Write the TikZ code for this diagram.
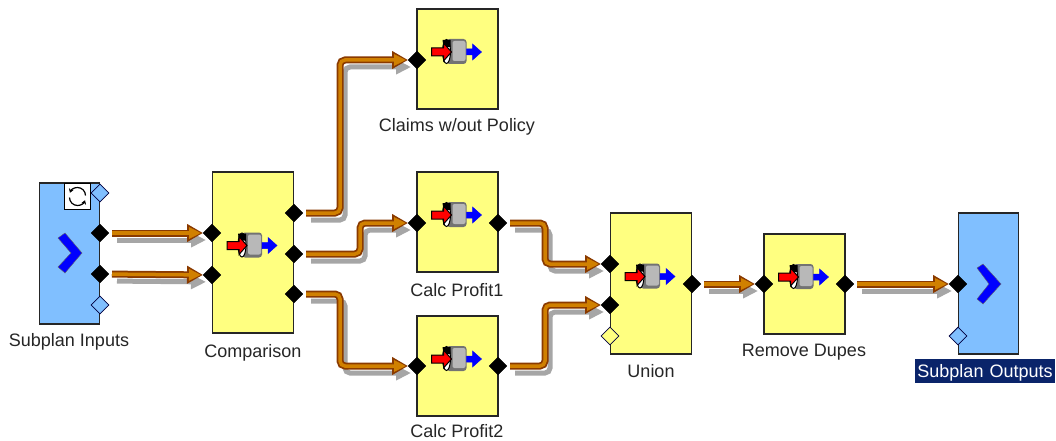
\documentclass[tikz,border=0pt]{standalone}
\usepackage{fontspec}
\setmainfont{Liberation Sans}
\usetikzlibrary{shapes.geometric,arrows.meta}
\definecolor{boxyellow}{HTML}{FFFF80}
\definecolor{boxblue}{HTML}{80BFFF}
\definecolor{pipebrown}{HTML}{8A3A00}
\definecolor{pipeorange}{HTML}{D08000}
\definecolor{labelnavy}{HTML}{0A246A}
\tikzset{
  x=1pt,y=-1pt,
  stagebox/.style={draw=black!85,line width=1.4pt,minimum width=#1,inner sep=0pt},
  ybox/.style={stagebox=81pt,fill=boxyellow},
  bbox/.style={stagebox=60pt,fill=boxblue},
  port/.style={diamond,aspect=1,fill=black,draw=black,inner sep=0pt,minimum size=18pt,line width=.4pt},
  openport/.style={port,draw=black!75!blue,line width=.8pt,fill=#1},
  lab/.style={font=\fontsize{18}{20}\selectfont,text=black!85,inner sep=0pt},
  pipeshadow/.style={draw=black!35,line width=5pt,rounded corners=5pt,shorten <=12pt,shorten >=11pt,
    -{Triangle[length=15pt,width=14pt,fill=black!35,color=black!35]}},
  pipeouter/.style={draw=pipebrown,line width=7pt,rounded corners=5pt,shorten <=12pt,shorten >=9pt,
    -{Triangle[length=16pt,width=17pt,fill=pipebrown,color=pipebrown]}},
  pipeinner/.style={draw=pipeorange,line width=3.5pt,rounded corners=5pt,shorten <=12pt,shorten >=11pt,
    -{Triangle[length=12pt,width=11pt,fill=pipeorange,color=pipeorange]}},
  icon/.pic={
    \fill[black!55,rounded corners=3pt] (-10,-13) rectangle (10,12);
    \fill[black!28,rounded corners=2pt] (-4,-11) rectangle (9,9);
    \fill[white,draw=black,line width=1pt] (-10,-.5) ellipse (4 and 12);
    \fill[black] (-14,-12) -- (-6,-12) -- (-6,-5) -- (-13,-5) -- cycle;
    \draw[blue,fill=blue,line width=.5pt] (10,-3) -- (16,-3) -- (16,-8) -- (25,0) -- (16,8) -- (16,3) -- (10,3) -- cycle;
    \draw[black,fill=red,line width=1pt] (-25,-4) -- (-13,-4) -- (-13,-9) -- (-5,0) -- (-13,9) -- (-13,4) -- (-25,4) -- cycle;
  }
}
\newcommand{\pipeline}[1]{%
  \draw[pipeshadow,transform canvas={shift={(5,7)}}] #1;
  \draw[pipeouter] #1;
  \draw[pipeinner] #1;
}
\begin{document}
\begin{tikzpicture}
\useasboundingbox (0,0) rectangle (1056,441);
\fill[white] (0,0) rectangle (1056,441);
% boxes
\node[bbox,minimum height=141pt] (inb) at (69.5,253.5) {};
\node[ybox,minimum height=161pt] (cmp) at (253,252.5) {};
\node[ybox,minimum height=100pt] (cla) at (457.5,59) {};
\node[ybox,minimum height=100pt] (cp1) at (457.5,222) {};
\node[ybox,minimum height=100pt] (cp2) at (457.5,366) {};
\node[ybox,minimum height=141pt] (uni) at (651,283.5) {};
\node[ybox,minimum height=100pt] (rem) at (804.5,284) {};
\node[bbox,minimum height=141pt] (oub) at (988.5,283.5) {};
% refresh badge
\node[draw=black,line width=1.4pt,fill=white,minimum size=26pt,inner sep=0pt] (ref) at (77.5,196.5) {};
\draw[black,line width=1.2pt,-{Stealth[length=4pt,width=5pt]}] (ref.center) ++(-8,1) arc (180:20:8);
\draw[black,line width=1.2pt,-{Stealth[length=4pt,width=5pt]}] (ref.center) ++(8,-1) arc (0:-160:8);
% chevrons
\fill[blue,draw=black!60,line width=.4pt] (58,238) -- (65,233) -- (82,253) -- (65,273) -- (58,267) -- (71,253) -- cycle;
\fill[blue,draw=black!60,line width=.4pt] (977,268) -- (983,264) -- (1001,284) -- (983,304) -- (977,299) -- (989,284) -- cycle;
% icons
\foreach \b in {cmp,cla,cp1,cp2,uni,rem}{
  \pic at ([shift={(-1,-7)}]\b.center) {icon};
}
% ports
\node[openport=boxblue] (ina) at (100,193) {};
\node[port] (in1) at (100,233) {};
\node[port] (in2) at (100,274) {};
\node[openport=boxblue] (inz) at (100,305) {};
\node[port] (ci1) at (212,233) {};
\node[port] (ci2) at (212,275) {};
\node[port] (co1) at (294,213) {};
\node[port] (co2) at (294,254) {};
\node[port] (co3) at (294,294) {};
\node[port] (cli) at (417,60) {};
\node[port] (p1i) at (417,223) {};
\node[port] (p1o) at (498,223) {};
\node[port] (p2i) at (417,366) {};
\node[port] (p2o) at (498,366) {};
\node[port] (ui1) at (610,264) {};
\node[port] (ui2) at (610,305) {};
\node[openport=boxyellow] (uiz) at (610,336) {};
\node[port] (uo) at (692,284) {};
\node[port] (ri) at (764,284) {};
\node[port] (ro) at (845,284) {};
\node[port] (oi) at (958,284) {};
\node[openport=boxblue] (oz) at (958,336) {};
% connectors
\pipeline{(in1.center) -- (ci1.center)}
\pipeline{(in2.center) -- (ci2.center)}
\pipeline{(co1.center) -| (340,135) |- (cli.center)}
\pipeline{(co2.center) -| (360,240) |- (p1i.center)}
\pipeline{(co3.center) -| (340,330) |- (p2i.center)}
\pipeline{(p1o.center) -| (545,240) |- (ui1.center)}
\pipeline{(p2o.center) -| (545,335) |- (ui2.center)}
\pipeline{(uo.center) -- (ri.center)}
\pipeline{(ro.center) -- (oi.center)}
% labels
\node[lab] (lin) at (69,342) {Subplan Inputs};
\node[lab] (lcm) at (253,353) {Comparison};
\node[lab] (lcl) at (457,127) {Claims w/out Policy};
\node[lab] (lp1) at (457,290) {Calc Profit1};
\node[lab] (lp2) at (457,431.5) {Calc Profit2};
\node[lab] (lun) at (651,371) {Union};
\node[lab] (lre) at (804,352) {Remove Dupes};
\node[lab,fill=labelnavy,text=white,text width=140pt,align=center,text height=15pt,text depth=2pt,inner ysep=3.5pt] (lou) at (985,371) {Subplan Outputs};
\end{tikzpicture}
\end{document}
